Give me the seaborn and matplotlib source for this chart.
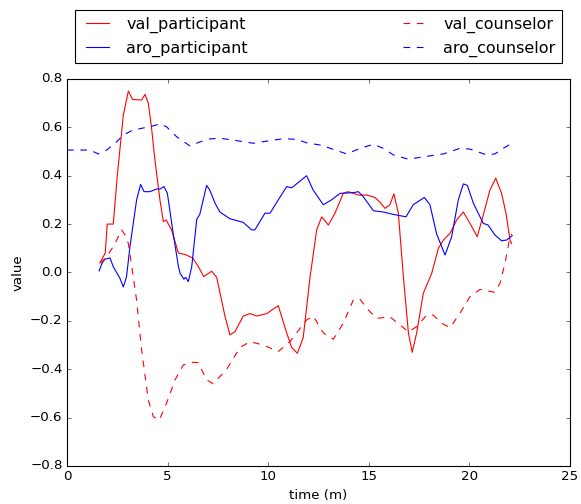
import matplotlib
matplotlib.use('Agg')
import matplotlib.pyplot as plt
import seaborn as sns

# values
t_val_part = [1.64, 1.90, 2.00, 2.30, 2.50, 2.80, 3.05, 3.26, 3.71, 3.88, 4.04, 4.20, 4.37, 4.62,
              4.79, 4.93, 5.20, 5.54, 5.87, 6.25, 6.53, 6.80, 7.19, 7.44, 7.85, 8.10, 8.35, 8.76,
              9.10, 9.43, 9.93, 10.50, 10.92, 11.17, 11.45, 11.74, 12.08, 12.41, 12.66, 12.99,
              13.32, 13.73, 13.98, 14.48, 14.90, 15.31, 15.56, 15.81, 16.05, 16.25, 16.47, 16.72,
              16.97, 17.16, 17.38, 17.71, 18.13, 18.46, 18.71, 19.04, 19.37, 19.70, 20.03, 20.39,
              20.69, 21.02, 21.31, 21.60, 21.82, 22.02, 22.10]
val_participant = [0.04, 0.08, 0.20, 0.20, 0.40, 0.65, 0.75, 0.715, 0.713, 0.736, 0.70, 0.60, 0.465, 0.30,
                   0.21, 0.217, 0.175, 0.08, 0.074, 0.06, 0.024, -0.017, 0.005, -0.02, -0.18, -0.258, -0.245, -0.18,
                   -0.17, -0.18, -0.17, -0.137, -0.25, -0.31, -0.334, -0.27, -0.02, 0.176, 0.23, 0.196,
                   0.245, 0.327, 0.334, 0.32, 0.32, 0.31, 0.29, 0.265, 0.28, 0.325, 0.245, -0.017,
                   -0.25, -0.33, -0.25, -0.086, -0.003, 0.10, 0.134, 0.162, 0.217, 0.25, 0.203, 0.148,
                   0.237, 0.34, 0.39, 0.327, 0.245, 0.134, 0.12]

t_aro_part = [1.60, 1.75, 1.89, 2.14, 2.30, 2.63, 2.80, 2.96, 3.13, 3.46, 3.66, 3.83, 4.12, 4.46,
              4.62, 4.82, 4.99, 5.28, 5.54, 5.62, 5.81, 5.90, 6.03, 6.20, 6.45, 6.60, 6.94, 7.10,
              7.36, 7.60, 8.10, 8.76, 9.18, 9.34, 9.84, 10.09, 10.50, 10.92, 11.17, 11.91, 12.24,
              12.74, 13.15, 13.57, 14.24, 14.48, 14.73, 15.23, 15.72, 16.22, 16.85, 17.21, 17.76,
              18.04, 18.37, 18.79, 19.12, 19.45, 19.70, 19.90, 20.20, 20.69, 20.93, 21.27, 21.60,
              21.85, 22.13]
aro_participant = [0.007, 0.04, 0.055, 0.06, 0.024, -0.024, -0.06, -0.017, 0.107, 0.30, 0.364, 0.334, 0.334, 0.345,
                   0.345, 0.355, 0.327, 0.16, 0.024, -0.003, -0.028, -0.02, -0.038, 0.024, 0.22, 0.24, 0.36, 0.34,
                   0.286, 0.25, 0.222, 0.207, 0.176, 0.176, 0.245, 0.245, 0.30, 0.355, 0.35, 0.40, 0.34,
                   0.28, 0.30, 0.327, 0.33, 0.334, 0.313, 0.255, 0.25, 0.24, 0.23, 0.28, 0.31,
                   0.28, 0.16, 0.072, 0.148, 0.30, 0.366, 0.36, 0.286, 0.203, 0.196, 0.155, 0.131,
                   0.134, 0.152]

t_val_couns = [1.64, 1.97, 2.30, 2.47, 2.72, 2.88, 3.05, 3.17, 3.46, 3.71, 4.04, 4.29, 4.59, 4.95,
               5.37, 5.78, 6.28, 6.53, 6.94, 7.27, 7.94, 8.60, 9.10, 9.76, 10.50, 11.08, 11.91, 12.24,
               12.74, 13.24, 13.73, 14.23, 14.53, 14.90, 15.39, 16.05, 16.55, 16.97, 17.38, 17.88,
               18.20, 18.62, 19.04, 19.53, 20.03, 20.53, 21.27, 21.52, 21.77, 21.97, 22.10]
val_counselor = [0.038, 0.065, 0.107, 0.134, 0.176, 0.155, 0.12, 0.052, -0.114, -0.32, -0.527, -0.596, -0.61, -0.54,
                 -0.444, -0.382, -0.371, -0.373, -0.444, -0.46, -0.40, -0.31, -0.286, -0.30, -0.327, -0.286, -0.196, -0.18,
                 -0.25, -0.276, -0.21, -0.114, -0.107, -0.148, -0.19, -0.183, -0.217, -0.245, -0.224, -0.176,
                 -0.176, -0.21, -0.228, -0.169, -0.10, -0.07, -0.082, -0.045, 0.038, 0.127, 0.16]

t_aro_couns = [0.0, 1.14, 1.56, 1.97, 2.39, 2.80, 3.21, 3.71, 4.12, 4.62, 4.95, 5.45, 6.11, 6.61,
               7.10, 7.60, 8.43, 9.26, 10.09, 10.75, 11.41, 11.91, 12.57, 13.24, 13.90, 14.57, 15.23,
               15.72, 16.22, 16.97, 17.71, 18.71, 19.53, 20.03, 20.86, 21.27, 21.68, 22.05]
aro_counselor = [0.506, 0.506, 0.49, 0.506, 0.534, 0.568, 0.586, 0.596, 0.602, 0.614, 0.602, 0.561, 0.523, 0.54,
                 0.552, 0.555, 0.545, 0.534, 0.545, 0.553, 0.55, 0.536, 0.527, 0.509, 0.49, 0.513, 0.53,
                 0.513, 0.486, 0.468, 0.478, 0.49, 0.513, 0.51, 0.486, 0.49, 0.513, 0.531]

plt.style.use('classic')

fig = plt.figure(figsize=(581 / 80, 504 / 80), dpi=80)
ax = fig.add_axes([0.1153, 0.0754, 0.8657, 0.768])

sns.lineplot(x=t_val_part, y=val_participant, color='r', label='val_participant', ax=ax)
sns.lineplot(x=t_aro_part, y=aro_participant, color='b', label='aro_participant', ax=ax)
sns.lineplot(x=t_val_couns, y=val_counselor, color='r', linestyle='--', label='val_counselor', ax=ax)
sns.lineplot(x=t_aro_couns, y=aro_counselor, color='b', linestyle='--', label='aro_counselor', ax=ax)

ax.set_xlim(0, 25)
ax.set_ylim(-0.8, 0.8)
ax.set_xlabel('time (m)')
ax.set_ylabel('value')
ax.legend(bbox_to_anchor=(0., 1.02, 1., .102), loc=3, ncol=2, mode='expand')

fig.savefig('out.png', dpi=80)
